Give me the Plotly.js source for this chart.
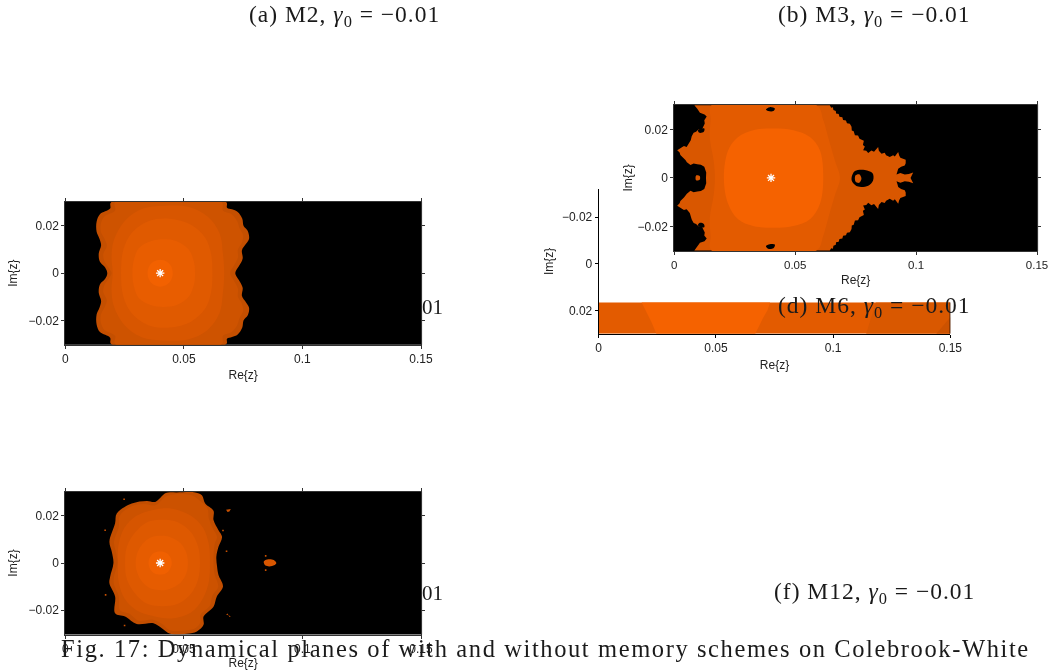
<!DOCTYPE html>
<html>
<head>
<meta charset="utf-8">
<script src="https://cdn.plot.ly/plotly-3.0.1.min.js"></script>
<style>
html,body{margin:0;padding:0;background:#fff}
#chart{width:1049px;height:670px;filter:blur(0.35px)}
.annotation-text{letter-spacing:1.0px}
.annotation[data-index="4"] .annotation-text,.annotation[data-index="5"] .annotation-text{letter-spacing:0}
.annotation[data-index="6"] .annotation-text{letter-spacing:1.6px}
</style>
</head>
<body>
<div id="chart"></div>
<script>
// All region outlines are [Re{z}, Im{z}] in thousandths.
const reTicks = [0, 0.05, 0.1, 0.15];
const reTickLabels = ['0', '0.05', '0.1', '0.15'];
const imTicks = [0.02, 0, -0.02];
const imTickLabels = ['0.02', '0', '\u22120.02'];
const rootPoint = [40, 0];

// ---- M2 ----
const m2Outer = [[67.9,30],[68.2,27.7],[70.3,27],[72.7,25.9],[74.6,23.1],[75.2,19.9],[76.9,17.9],[77.5,14.6],[76.3,12.5],[74.5,9.7],[74.8,6.2],[73.5,3.4],[71.8,0.6],[71.8,-0.6],[73.5,-3.4],[74.8,-6.2],[74.5,-9.7],[76.3,-12.5],[77.5,-14.6],[76.9,-17.9],[75.2,-19.9],[74.6,-23.1],[72.7,-25.9],[70.3,-27],[68.2,-27.7],[67.9,-30],[19.3,-30],[18.9,-27.3],[14.6,-24.9],[13.2,-21.7],[13.2,-17.5],[14.4,-14.6],[15.1,-11.8],[14.1,-8.3],[14.6,-4.8],[16.8,-2.4],[17.7,0],[16.8,2.4],[14.6,4.8],[14.1,8.3],[15.1,11.8],[14.4,14.6],[13.2,17.5],[13.2,21.7],[14.6,24.9],[18.9,27.3],[19.3,30]];
const m2BandE = [[66,30],[66.5,26.5],[70,25],[72.5,22],[73.5,19],[75,16],[74.5,13],[72.8,10],[72.8,6.5],[71,3],[69.5,0],[71,-3],[72.8,-6.5],[72.8,-10],[74.5,-13],[75,-16],[73.5,-19],[72.5,-22],[70,-25],[66.5,-26.5],[66,-30],[21,-30],[21,-26.5],[16.5,-24],[15,-21],[15,-17.5],[16.5,-14.5],[17.5,-11.5],[16,-8],[16.5,-5],[18.5,-2],[19.5,0],[18.5,2],[16.5,5],[16,8],[17.5,11.5],[16.5,14.5],[15,17.5],[15,21],[16.5,24],[21,26.5],[21,30]];
const m2BandD = [[67,0],[66.5,8],[65,17],[60,24],[52,28],[42,28.5],[32,27],[25,22],[20.5,14],[19.5,7],[20,0],[19.5,-7],[20.5,-14],[25,-22],[32,-27],[42,-28.5],[52,-28],[60,-24],[65,-17],[66.5,-8]];
const m2BandC = [[62,0],[61.5,8],[59,15],[53,20.5],[44,23],[35,22],[28,17],[24.5,10],[23.5,0],[24.5,-10],[28,-17],[35,-22],[44,-23],[53,-20.5],[59,-15],[61.5,-8]];
const m2BandB = [[54.7,0],[54.2,5],[52,10],[47,13.5],[41.5,14.3],[36,13.5],[31,10.5],[28.8,5],[28.3,0],[28.8,-5],[31,-10.5],[36,-13.5],[41.5,-14.3],[47,-13.5],[52,-10],[54.2,-5]];
const m2BandA = [[45.3,0],[44.6,2.9],[42.7,4.9],[40,5.7],[37.3,4.9],[35.4,2.9],[34.7,0],[35.4,-2.9],[37.3,-4.9],[40,-5.7],[42.7,-4.9],[44.6,-2.9]];

// ---- M3 ----
const m3Outer = [[64.3,30],[64.9,29],[65.6,29.2],[65.8,28],[66.8,27.6],[66.9,26.6],[68,26.4],[68.3,25.2],[69.5,25],[69.8,23.9],[71,23.7],[71.4,22.6],[72.6,22.4],[73.3,21.1],[73.4,19.6],[74.2,19.3],[74.7,17.6],[76,17.5],[76.6,16.2],[78.4,15.3],[78,13.6],[78.8,13],[78.1,11.4],[79.4,11.2],[80.2,10.3],[81.5,11.3],[82.6,10.8],[84.3,12.8],[84.6,11.2],[85.7,10],[87,10.4],[87.6,9.4],[89.1,8.6],[90.5,9.4],[91.2,8.8],[92.6,10.7],[93,9.2],[93.5,8.3],[95.7,7.5],[95.7,6],[95.3,5.1],[93.8,4.6],[92.6,3.8],[92.3,2.6],[91.9,1.4],[93.5,2],[95.3,1.4],[97,1.6],[98.8,2.2],[97.7,0],[98.8,-2.2],[97,-1.6],[95.3,-1.4],[93.5,-2],[91.9,-1.4],[92.3,-2.6],[92.6,-3.8],[93.8,-4.6],[95.3,-5.1],[95.7,-6],[95.7,-7.5],[93.5,-8.3],[93,-9.2],[92.6,-10.7],[91.2,-8.8],[90.5,-9.4],[89.1,-8.6],[87.6,-9.4],[87,-10.4],[85.7,-10],[84.6,-11.2],[84.3,-12.8],[82.6,-10.8],[81.5,-11.3],[80.2,-10.3],[79.4,-11.2],[78.1,-11.4],[78.8,-13],[78,-13.6],[78.4,-15.3],[76.6,-16.2],[76,-17.5],[74.7,-17.6],[74.2,-19.3],[73.4,-19.6],[73.3,-21.1],[72.6,-22.4],[71.4,-22.6],[71,-23.7],[69.8,-23.9],[69.5,-25],[68.3,-25.2],[68,-26.4],[66.9,-26.6],[66.8,-27.6],[65.8,-28],[65.6,-29.2],[64.9,-29],[64.3,-30],[8.3,-30],[9,-29],[9.5,-28.5],[10.6,-26.8],[12.5,-26.2],[13.4,-25],[12.4,-23.8],[12.6,-22.5],[11.3,-19.9],[10,-20],[9,-19],[8,-18.6],[7.2,-17.2],[6.8,-15.5],[6.4,-14.5],[5.1,-12.9],[4,-13.2],[3,-12.6],[1.2,-11.5],[2.2,-10.5],[2.5,-9.5],[4,-8.1],[4.6,-7.4],[5.2,-6.5],[6.7,-5.3],[8,-5.9],[9.5,-5.6],[11,-5.4],[12.4,-4.6],[13.2,-2.2],[13.1,0],[13.2,2.2],[12.4,4.6],[11,5.4],[9.5,5.6],[8,5.9],[6.7,5.3],[5.2,6.5],[4.6,7.4],[4,7.9],[2.5,9.5],[2.2,10.5],[1.2,11.4],[3,12.6],[4,13.2],[5.1,12.8],[6.4,14.5],[6.8,15.5],[7.2,17.2],[8,18.6],[9,19],[10,20],[11.3,19.7],[12.6,22.5],[12.4,23.8],[13.4,25.3],[12.5,26.2],[10.6,26.9],[9.5,28.5],[9,29],[8.3,30]];
const m3BandMid = [[15.4,30],[58.8,30],[61.6,23.9],[63.6,16.9],[66.4,7.2],[68.5,0],[66.4,-7.2],[63.6,-16.9],[61.6,-23.9],[58.8,-30],[15.4,-30],[15,-24],[14.7,-16.4],[16.3,-7],[16.8,0],[16.3,7],[14.7,16.4],[15,24]];
const m3BandInner = [[40.9,20.4],[49.2,19.7],[56.1,16.9],[60.2,11.4],[61.6,0],[60.2,-10.8],[56.1,-17.1],[49.2,-19.9],[40.9,-20.6],[32.6,-19.9],[26.4,-17.1],[22.3,-10.8],[20.5,0],[22.3,11.4],[26.4,16.9],[32.6,19.7]];
const m3Hole = [[73.3,0],[74.7,2.8],[78.8,3.3],[82,1.9],[82.2,-1.1],[80.2,-3.2],[76,-3.6],[73.7,-1.8]];
const m3HoleIsland = [[74.9,1],[76.5,1.5],[77.4,-0.4],[76.5,-2],[75,-1.6]];
const m3TopSpeck = [[37.9,28.2],[39.5,29.2],[41.6,28.6],[41,27.6],[38.8,27.6]];
const m3BottomSpeck = [[37.9,-28.2],[39.5,-27.4],[41.6,-27.6],[41,-29],[38.8,-29.2]];
const m3LeftSpeckA = [[9.8,19.6],[12.4,20.4],[12.2,19],[10.4,18.6]];
const m3LeftSpeckB = [[9.8,-19.6],[12.4,-20.4],[12.2,-19],[10.4,-18.6]];
const m3LeftIsland = [[9,1],[10.5,0.8],[10.5,-0.8],[9,-1]];

// ---- M6 (only the strip that stays visible) ----
const m6Strip = [[0,16.6],[150,16.6],[150,30],[0,30]];
const m6Bright = [[18.3,16.6],[73.1,16.6],[72,20],[70,23.5],[66.8,30],[24.6,30],[22.5,25],[20.5,21],[19,18.5]];
const m6Right = [[118.2,16.6],[150,16.6],[150,30],[114.1,30]];
const m6Corner = [[150,23],[150,30],[144,30]];
const m6RightEdge = [[150,16.6],[150,30]];

// ---- M5 ----
const m5Outer = [[42.4,29.7],[47,29.9],[54.8,29.9],[57.6,28.7],[59,25.2],[62.5,22.1],[62.5,18.2],[64.6,13.9],[66.1,11.1],[64.6,6.9],[63.7,2.7],[64,-1.5],[64.6,-5.1],[66.5,-10],[63.9,-14.2],[62.5,-18.5],[58.3,-22.7],[58.3,-26.2],[55.5,-29],[51.3,-30],[44.2,-30],[40.7,-27.6],[37.2,-25.5],[30.1,-25.8],[25.2,-22.7],[21,-21.3],[21,-14.2],[18.6,-8.6],[18.9,-5.8],[20.3,0],[19.6,4.8],[18.6,9],[21,16.8],[21.7,21],[28,25.2],[34.4,26.3],[37.9,25.9]];
const m5BandE = [[43,28.5],[53,28.8],[56,27],[60,23],[60.5,19],[62,15],[64,11],[63,8],[62.5,0],[63,-5],[64.5,-10],[62,-14],[61,-18],[57,-22],[57,-25],[55,-27.5],[51,-28.5],[44,-28.5],[41,-26],[37,-24],[31,-24.5],[27,-21.5],[23,-20],[22.5,-14],[20.5,-9],[20.5,-6],[22,0],[21.5,4],[20.5,9],[22.5,15],[23,20],[28,24],[33,25],[38,24.5]];
const m5BandD = [[61,0],[60.5,8],[58,15],[53,20],[45,23],[37,22.5],[30,20],[25,15],[22.5,8],[22.2,0],[22.5,-8],[25,-15],[30,-20],[37,-22.5],[45,-23.5],[53,-21],[58,-15],[60.5,-8]];
const m5BandC = [[56.8,0],[56,7],[53,13],[47.5,17.3],[41,18.3],[34.5,17.3],[29.5,13],[26,7],[25.2,0],[26,-7],[29.5,-13],[34.5,-17.3],[41,-18.3],[47.5,-17.3],[53,-13],[56,-7]];
const m5BandB = [[51.7,0],[51,4.5],[48.5,8.5],[44,11],[40.5,11.5],[36,10.8],[32.5,8],[30.3,4],[29.7,0],[30.3,-4],[32.5,-8],[36,-10.8],[40.5,-11.5],[44,-11],[48.5,-8.5],[51,-4.5]];
const m5BandA = [[44.9,0],[44.2,2.5],[42.5,4.3],[40,4.9],[37.5,4.3],[35.8,2.5],[35.1,0],[35.8,-2.5],[37.5,-4.3],[40,-4.9],[42.5,-4.3],[44.2,-2.5]];
const m5Island = [[83.7,0.6],[85.1,1.5],[87.9,1.3],[89,-0.1],[87.2,-1.3],[84.4,-1.1]];
const m5SpeckUp = [[67.8,22.6],[69.8,22.9],[69.2,21.8],[68.4,21.6]];
const m5SpeckDown = [[67.8,-21.8],[69.8,-22.6],[69.2,-22.9],[68.4,-21.4]];
const m5Dots = [[16.8,13.9],[24.8,27],[17,-13.5],[25,-26.5],[66.5,13.8],[68,5],[84.5,3],[84.5,-3]];

const ORANGE_DOT = '#c85000';
const traces = [];
function region(points, color, ax, smooth) {
  traces.push({
    type: 'scatter', mode: 'lines', fill: 'toself', fillcolor: color,
    x: points.map(p => p[0] / 1000).concat([points[0][0] / 1000]),
    y: points.map(p => p[1] / 1000).concat([points[0][1] / 1000]),
    line: smooth ? {width: 0, color: color, shape: 'spline', smoothing: 1} : {width: 0, color: color},
    hoverinfo: 'skip', showlegend: false,
    xaxis: 'x' + ax, yaxis: 'y' + ax
  });
}
function root(ax) {
  traces.push({
    type: 'scatter', mode: 'markers', x: [rootPoint[0] / 1000], y: [rootPoint[1] / 1000],
    marker: {symbol: 'asterisk-open', size: 7, color: '#fff', line: {color: '#fff', width: 1.3}},
    hoverinfo: 'skip', showlegend: false, xaxis: 'x' + ax, yaxis: 'y' + ax
  });
}

// subplot 1 = M6 (behind), 2 = M2, 3 = M5, 4 = M3
region(m6Strip, '#e35b00', '');
region(m6Bright, '#f56200', '');
region(m6Right, '#d95800', '');
region(m6Corner, '#cc5200', '');

[[m2Outer,'#c44f00'],[m2BandE,'#ce5300'],[m2BandD,'#d85600'],[m2BandC,'#e05a00'],[m2BandB,'#e85d00'],[m2BandA,'#f26100']]
  .forEach(r => region(r[0], r[1], '2', true));
root('2');

[[m5Outer,'#c24e00'],[m5BandE,'#cc5200'],[m5BandD,'#d65500'],[m5BandC,'#de5900'],[m5BandB,'#e65c00'],[m5BandA,'#f06000'],[m5Island,'#d85600']]
  .forEach(r => region(r[0], r[1], '3', true));
[[m5SpeckUp,'#c85000'],[m5SpeckDown,'#c85000']].forEach(r => region(r[0], r[1], '3'));
traces.push({type: 'scatter', mode: 'markers', x: m5Dots.map(p => p[0] / 1000), y: m5Dots.map(p => p[1] / 1000),
  marker: {symbol: 'square', size: 1.6, color: ORANGE_DOT, line: {width: 0}}, hoverinfo: 'skip', showlegend: false, xaxis: 'x3', yaxis: 'y3'});
root('3');

region(m3Outer, '#d95700', '4');
region(m3BandMid, '#e35b00', '4', true);
region(m3BandInner, '#f56200', '4', true);
[[m3Hole,'#000000',true],[m3HoleIsland,'#d95700',true],[m3TopSpeck,'#000000',true],[m3BottomSpeck,'#000000',true],[m3LeftSpeckA,'#000000',true],[m3LeftSpeckB,'#000000',true],[m3LeftIsland,'#d95700',true]]
  .forEach(r => region(r[0], r[1], '4', r[2]));
root('4');

const W = 1049, H = 670;
const tickFont = (size) => ({family: '"Liberation Sans", Arial, sans-serif', size: size || 12, color: '#222'});
function xAxis(left, right, anchor, standoff, size) {
  return {
    domain: [left / W, right / W], anchor: anchor, range: [0, 0.15], tickmode: 'array',
    tickvals: reTicks, ticktext: reTickLabels, ticks: 'outside', ticklen: 3, tickwidth: 1, tickcolor: '#333',
    showline: true, linecolor: '#333', linewidth: 1, mirror: 'ticks', showgrid: false, zeroline: false,
    tickfont: tickFont(size), title: {text: 'Re{z}', font: tickFont(), standoff: standoff}
  };
}
function yAxis(top, bottom, anchor, standoff, range) {
  return {
    domain: [1 - bottom / H, 1 - top / H], anchor: anchor, range: range, tickmode: 'array',
    tickvals: imTicks, ticktext: imTickLabels, ticks: 'outside', ticklen: 3, tickwidth: 1, tickcolor: '#333',
    showline: true, linecolor: '#333', linewidth: 1, mirror: 'ticks', showgrid: false, zeroline: false,
    tickfont: tickFont(), title: {text: 'Im{z}', font: tickFont(), standoff: standoff}
  };
}
const xM6 = xAxis(598.7, 950.3, 'y', 6);
const yM6 = yAxis(189, 333.7, 'x', 5, [0.03, -0.032]);
xM6.mirror = false; yM6.mirror = false;
xM6.linecolor = yM6.linecolor = xM6.tickcolor = yM6.tickcolor = '#000';

const blackBox = n => ({type: 'rect', xref: 'x' + n + ' domain', yref: 'y' + n + ' domain', x0: -0.003, x1: 1.003, y0: 0, y1: 1,
  fillcolor: '#000', line: {width: 0}, layer: 'below'});
const m6Edge = {type: 'line', xref: 'x', yref: 'y', x0: m6RightEdge[0][0] / 1000, x1: m6RightEdge[1][0] / 1000,
  y0: m6RightEdge[0][1] / 1000, y1: m6RightEdge[1][1] / 1000, line: {color: '#000', width: 1.2}, layer: 'above'};

const serif = {family: '"Liberation Serif", "Times New Roman", serif', size: 23.5, color: '#1a1a1a'};
const gamma = ', <i>\u03b3</i><sub>0</sub> = \u22120.01';
function caption(text, px, py, size) {
  return {text: text, xref: 'paper', yref: 'paper', x: px / W, y: 1 - py / H, xanchor: 'left', yanchor: 'middle',
    showarrow: false, align: 'left', font: Object.assign({}, serif, size ? {size: size} : {}), borderpad: 0};
}

const layout = {
  width: W, height: H, margin: {l: 0, r: 0, t: 0, b: 0, pad: 0}, paper_bgcolor: '#fff', plot_bgcolor: 'rgba(0,0,0,0)',
  showlegend: false,
  xaxis: xM6, yaxis: yM6,
  xaxis2: xAxis(65.3, 421, 'y2', 5), yaxis2: yAxis(201.5, 344.8, 'x2', 8, [-0.0303, 0.0303]),
  xaxis3: xAxis(65.3, 421, 'y3', 7), yaxis3: yAxis(491.5, 634.5, 'x3', 8, [-0.0303, 0.0303]),
  xaxis4: xAxis(674.3, 1037, 'y4', 5, 11.5), yaxis4: yAxis(104.5, 251.3, 'x4', 2, [-0.0303, 0.0303]),
  shapes: [blackBox(2), blackBox(3), blackBox(4), m6Edge],
  annotations: [
    caption('(a) M2' + gamma, 248, 16.5),
    caption('(b) M3' + gamma, 777, 16.5),
    caption('(d) M6' + gamma, 777, 307),
    caption('(f) M12' + gamma, 773, 593),
    caption('01', 421, 307, 21),
    caption('01', 421, 593, 21),
    caption('Fig. 17: Dynamical planes of with and without memory schemes on Colebrook-White', 60, 648, 24.5)
  ]
};
Plotly.newPlot('chart', traces, layout, {displayModeBar: false, responsive: false, staticPlot: true});
</script>
</body>
</html>
